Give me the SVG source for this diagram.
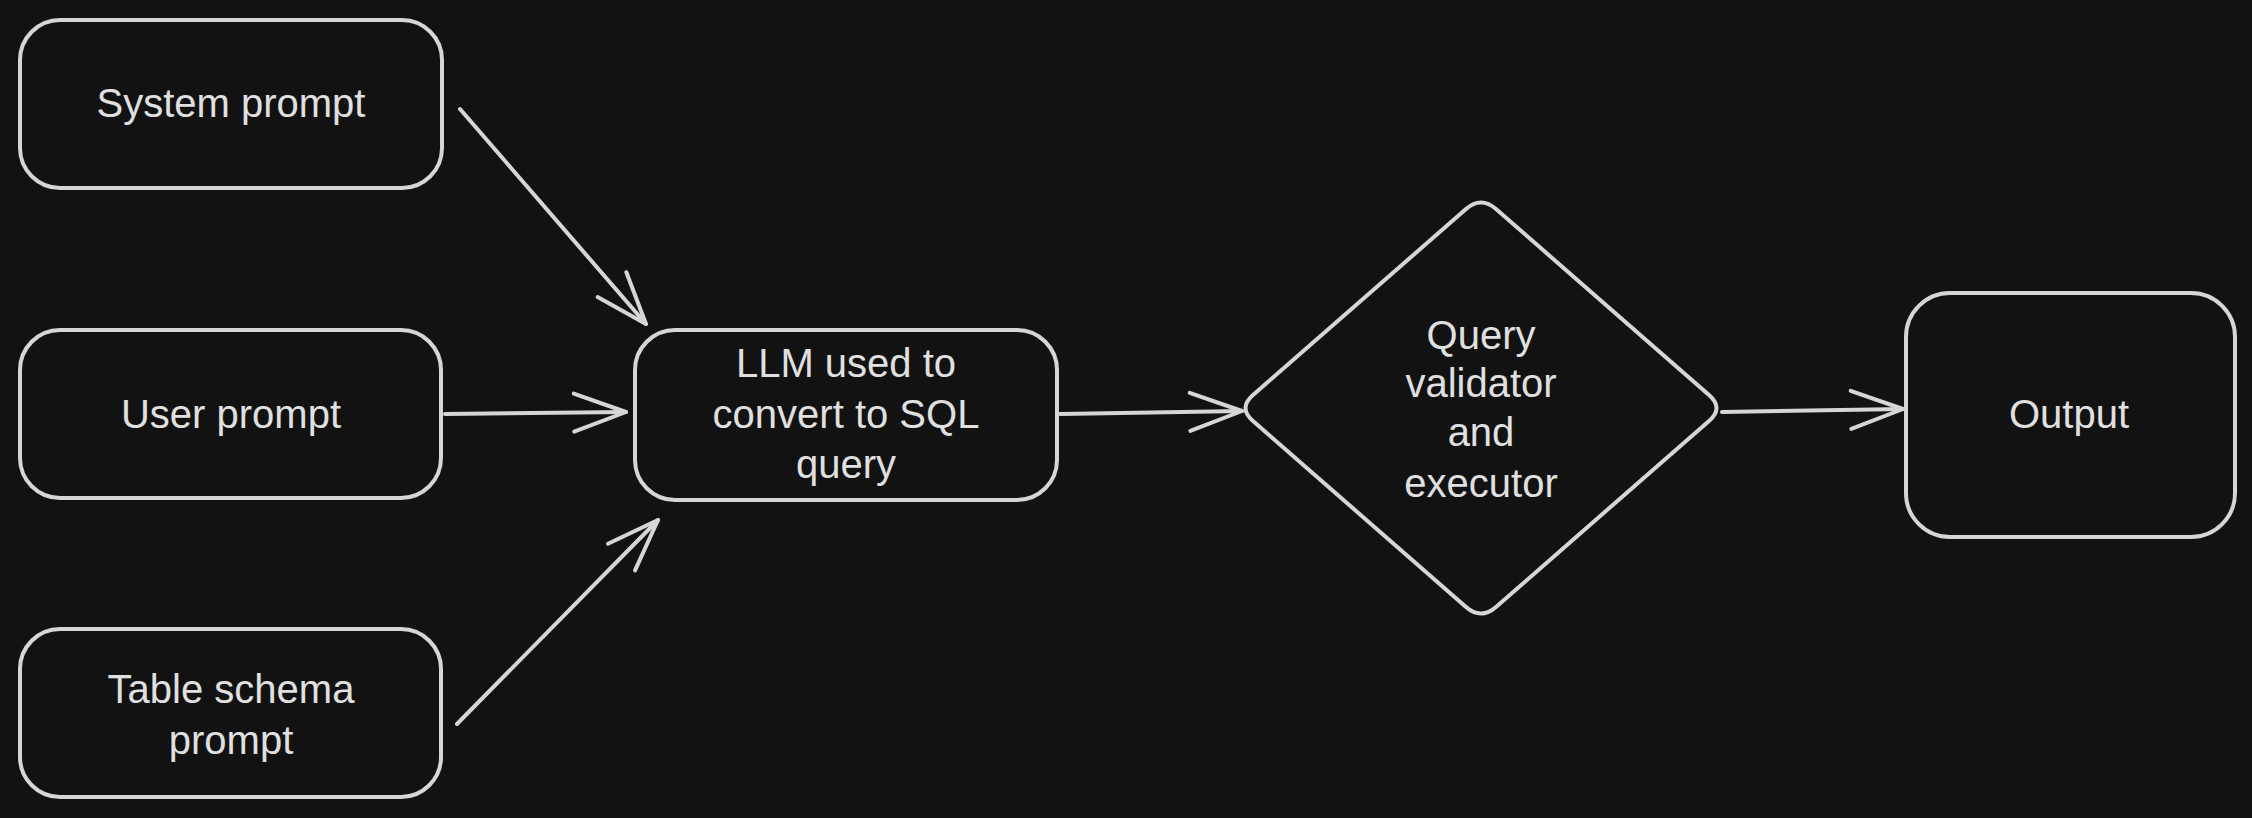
<svg xmlns="http://www.w3.org/2000/svg" width="2252" height="818" viewBox="0 0 2252 818">
<style>
.bg{fill:#121212}
.shape{fill:#121212;stroke:#d6d6d6;stroke-width:4;stroke-linejoin:round}
.lbl{font-family:"Liberation Sans",Arial,sans-serif;font-size:40px;fill:#e0e0e0;text-anchor:middle}
.conn{stroke:#d6d6d6;stroke-width:4;fill:none;stroke-linecap:round;marker-end:url(#head)}
</style>
<defs>
<marker id="head" markerUnits="userSpaceOnUse" viewBox="-60 -30 70 60" markerWidth="70" markerHeight="60" refX="0" refY="0" orient="auto" overflow="visible">
<path d="M -52 -19 L 0 0 L -52 19" fill="none" stroke="#d6d6d6" stroke-width="4" stroke-linecap="round" stroke-linejoin="round"/>
</marker>
</defs>
<rect class="bg" x="0" y="0" width="2252" height="818"/>
<g id="connectors">
<path class="conn" d="M 460 109 L 646 324"/>
<path class="conn" d="M 445 414 L 626 412"/>
<path class="conn" d="M 457 724 L 658 520"/>
<path class="conn" d="M 1060 414 L 1242 411"/>
<path class="conn" d="M 1722 412 L 1903 409"/>
</g>
<g id="system-prompt">
<rect class="shape" x="20" y="20" width="422" height="168" rx="40"/>
<text class="lbl" x="231" y="117">System prompt</text>
</g>
<g id="user-prompt">
<rect class="shape" x="20" y="330" width="421" height="168" rx="40"/>
<text class="lbl" x="231" y="428">User prompt</text>
</g>
<g id="table-schema-prompt">
<rect class="shape" x="20" y="629" width="421" height="168" rx="40"/>
<text class="lbl" x="231" y="703">Table schema</text>
<text class="lbl" x="231" y="754">prompt</text>
</g>
<g id="llm">
<rect class="shape" x="635" y="330" width="422" height="170" rx="40"/>
<text class="lbl" x="846" y="377">LLM used to</text>
<text class="lbl" x="846" y="428">convert to SQL</text>
<text class="lbl" x="846" y="478">query</text>
</g>
<g id="validator">
<path class="shape" d="M 1466 209 Q 1481 196 1496 209 L 1709 395 Q 1724 408 1709 421 L 1496 607 Q 1481 620 1466 607 L 1253 421 Q 1238 408 1253 395 Z"/>
<text class="lbl" x="1481" y="349">Query</text>
<text class="lbl" x="1481" y="397">validator</text>
<text class="lbl" x="1481" y="446">and</text>
<text class="lbl" x="1481" y="497">executor</text>
</g>
<g id="output">
<rect class="shape" x="1906" y="293" width="329" height="244" rx="44"/>
<text class="lbl" x="2069" y="428">Output</text>
</g>
</svg>
